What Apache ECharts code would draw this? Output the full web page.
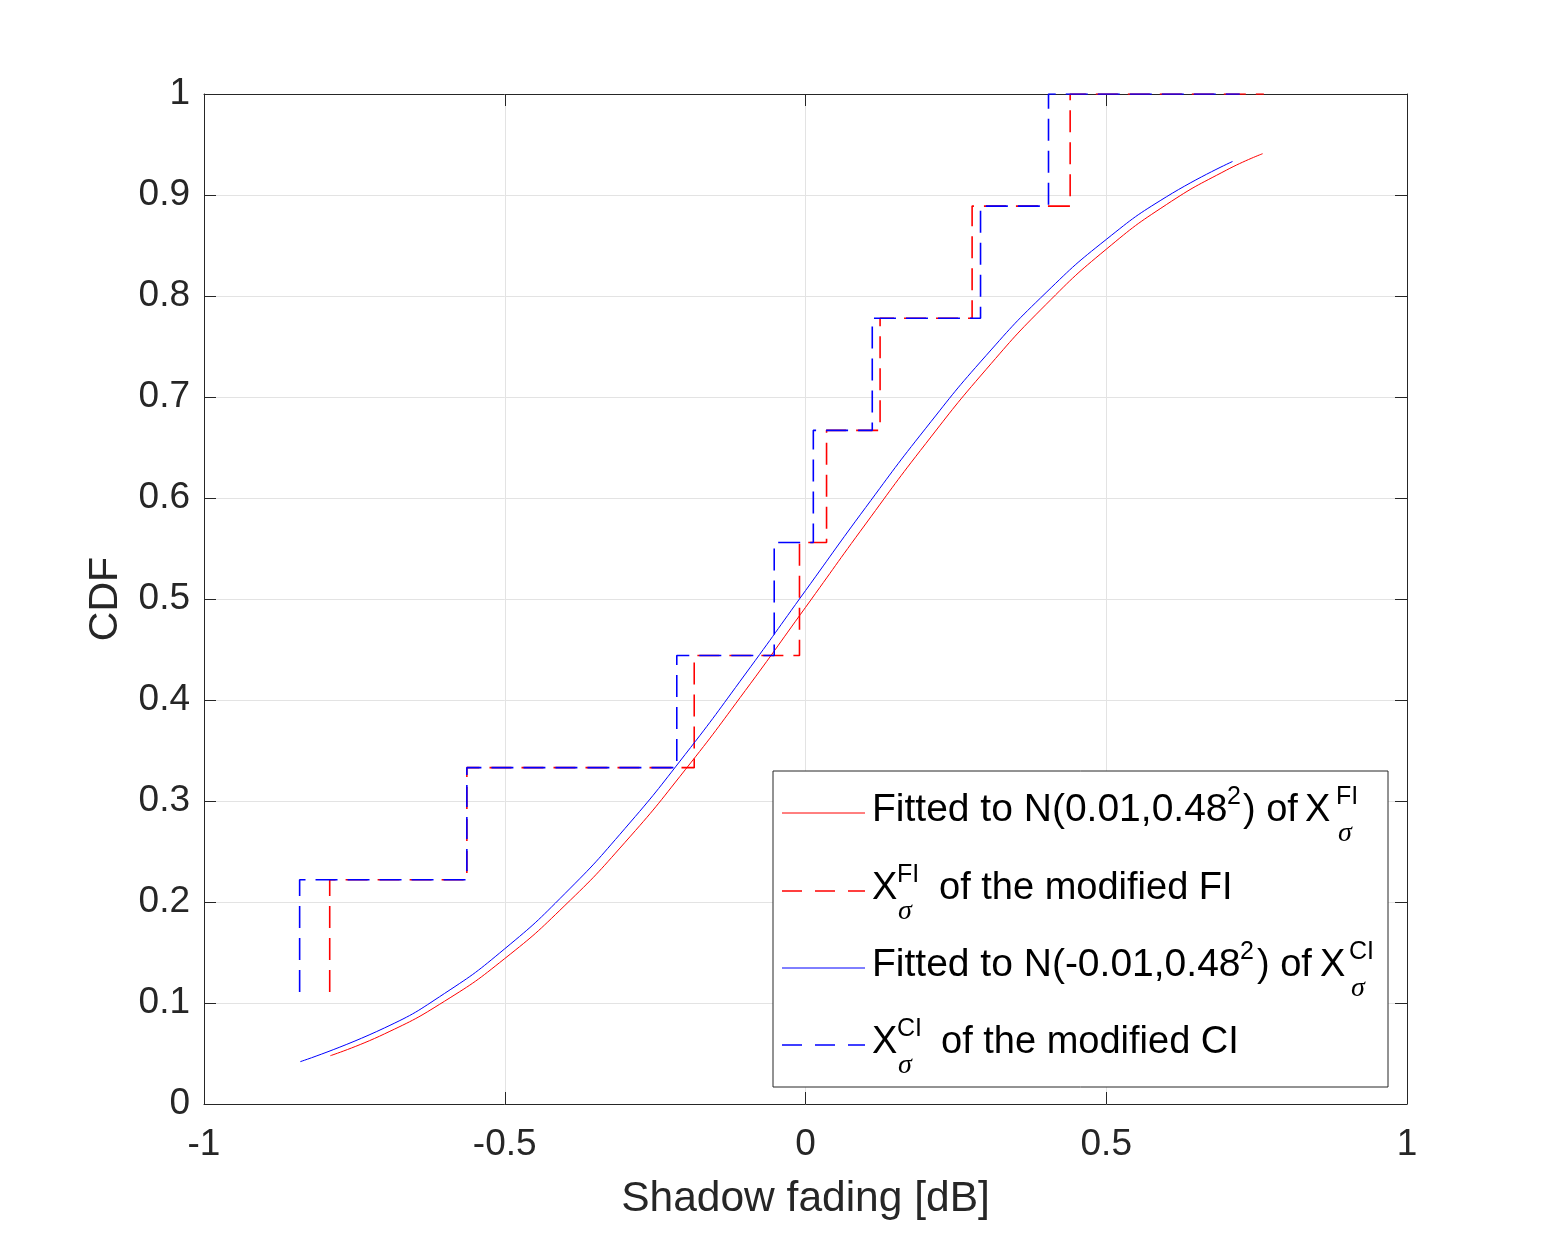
<!DOCTYPE html>
<html>
<head>
<meta charset="utf-8">
<script src="https://cdn.jsdelivr.net/npm/echarts@6/dist/echarts.min.js"></script>
<style>
  html, body { margin: 0; padding: 0; background: #fff; }
  #chart { width: 1554px; height: 1240px; }
</style>
</head>
<body>
<div id="chart"></div>
<script>
// fitted normal CDFs
var fiFitX = [-0.79, -0.7, -0.6, -0.5, -0.4, -0.3, -0.2, -0.1, 0, 0.1, 0.2, 0.3, 0.4, 0.5, 0.6, 0.7, 0.76];
var fiFitY = [0.0478, 0.0694, 0.1018, 0.1440, 0.1966, 0.2591, 0.3309, 0.4094, 0.4917, 0.5743, 0.6539, 0.7271, 0.7917, 0.8463, 0.8905, 0.9247, 0.9409];
var ciFitX = [-0.84, -0.7, -0.6, -0.5, -0.4, -0.3, -0.2, -0.1, 0, 0.1, 0.2, 0.3, 0.4, 0.5, 0.6, 0.71];
var ciFitY = [0.0419, 0.0753, 0.1095, 0.1537, 0.2083, 0.2729, 0.3461, 0.4257, 0.5083, 0.5906, 0.6691, 0.7409, 0.8034, 0.8560, 0.8982, 0.9332];

// empirical CDF steps
var stepLevels = [0.111, 0.222, 0.333, 0.444, 0.556, 0.667, 0.778, 0.889, 1.0];
var fiJumpX = [-0.791, -0.563, -0.185, -0.010, 0.035, 0.124, 0.277, 0.440];
var fiEndX = 0.762;
var ciJumpX = [-0.841, -0.563, -0.214, -0.052, 0.013, 0.111, 0.291, 0.404];
var ciEndX = 0.722;

var xTicks = [-1, -0.5, 0, 0.5, 1];
var yTicks = [0, 0.1, 0.2, 0.3, 0.4, 0.5, 0.6, 0.7, 0.8, 0.9, 1];

function pairs(xs, ys) {
  var out = [];
  for (var i = 0; i < xs.length; i++) out.push([xs[i], ys[i]]);
  return out;
}
function steps(jx, endX) {
  var out = [[jx[0], stepLevels[0]]];
  for (var i = 0; i < jx.length; i++) {
    out.push([jx[i], stepLevels[i + 1]]);
    out.push([i + 1 < jx.length ? jx[i + 1] : endX, stepLevels[i + 1]]);
  }
  return out;
}

var FONT = 'Liberation Sans, Arial, sans-serif';
var INK = '#262626';

var myChart = echarts.init(document.getElementById('chart'));

// legend drawn by hand (MATLAB style with super/subscripts)
var legendRows = [
  {y: 813, color: '#ff0000', dash: null,
   parts: [
     {t: 'Fitted to N(0.01,0.48', x: 872, s: 39},
     {t: '2', x: 1227, s: 25, sup: true},
     {t: ') of', x: 1243, s: 38},
     {t: 'X', x: 1305, s: 38},
     {t: 'FI', x: 1336, s: 25, sup: true},
     {t: 'σ', x: 1338, s: 28, sub: true}
   ]},
  {y: 891, color: '#ff0000', dash: [20, 13],
   parts: [
     {t: 'X', x: 872, s: 38},
     {t: 'FI', x: 897, s: 25, sup: true},
     {t: 'σ', x: 898, s: 28, sub: true},
     {t: 'of the modified FI', x: 939, s: 38}
   ]},
  {y: 968, color: '#0000ff', dash: null,
   parts: [
     {t: 'Fitted to N(-0.01,0.48', x: 872, s: 39},
     {t: '2', x: 1240, s: 25, sup: true},
     {t: ') of', x: 1257, s: 38},
     {t: 'X', x: 1320, s: 38},
     {t: 'CI', x: 1349, s: 25, sup: true},
     {t: 'σ', x: 1351, s: 28, sub: true}
   ]},
  {y: 1045, color: '#0000ff', dash: [20, 13],
   parts: [
     {t: 'X', x: 872, s: 38},
     {t: 'CI', x: 897, s: 25, sup: true},
     {t: 'σ', x: 898, s: 28, sub: true},
     {t: 'of the modified CI', x: 941, s: 38}
   ]}
];

var legendEls = [{
  type: 'rect', z: 100,
  shape: {x: 773, y: 771, width: 615, height: 316},
  style: {fill: '#fff', stroke: INK, lineWidth: 1}
}];
legendRows.forEach(function (r) {
  legendEls.push({
    type: 'line', z: 101,
    shape: {x1: 782, y1: r.y, x2: 865, y2: r.y},
    style: {stroke: r.color, lineWidth: r.dash ? 1.5 : 1, lineDash: r.dash || null}
  });
  r.parts.forEach(function (p) {
    var y = r.y - 2.5;
    if (p.sup) y = r.y - 16;
    if (p.sub) y = r.y + 20.5;
    legendEls.push({
      type: 'text', z: 101,
      x: p.x, y: y,
      style: {
        text: p.t,
        fontSize: p.s,
        fontFamily: p.sub ? 'Liberation Serif, Times New Roman, serif' : FONT,
        fontStyle: p.sub ? 'italic' : 'normal',
        fill: '#000',
        align: 'left',
        verticalAlign: 'middle'
      }
    });
  });
});

function fmt(v) {
  return String(Math.round(v * 10) / 10);
}

var option = {
  backgroundColor: '#fff',
  animation: false,
  grid: {left: 204, right: 147, top: 94, bottom: 136, containLabel: false},
  xAxis: [
    {
      type: 'value', min: xTicks[0], max: xTicks[xTicks.length - 1], interval: 0.5,
      position: 'bottom',
      name: 'Shadow fading [dB]', nameLocation: 'middle', nameGap: 74,
      nameTextStyle: {fontSize: 42.5, fontFamily: FONT, color: INK},
      axisLine: {show: true, onZero: false, lineStyle: {color: INK, width: 1}},
      axisTick: {show: true, inside: true, length: 12, lineStyle: {color: INK}},
      axisLabel: {fontSize: 37, fontFamily: FONT, color: INK, margin: 22, formatter: fmt},
      splitLine: {show: true, lineStyle: {color: '#e3e3e3', width: 1}}
    },
    {
      type: 'value', min: xTicks[0], max: xTicks[xTicks.length - 1], interval: 0.5,
      position: 'top',
      axisLine: {show: true, onZero: false, lineStyle: {color: INK, width: 1}},
      axisTick: {show: true, inside: true, length: 12, lineStyle: {color: INK}},
      axisLabel: {show: false},
      splitLine: {show: false}
    }
  ],
  yAxis: [
    {
      type: 'value', min: yTicks[0], max: yTicks[yTicks.length - 1], interval: 0.1,
      position: 'left',
      name: 'CDF', nameLocation: 'middle', nameGap: 78,
      nameTextStyle: {fontSize: 41, fontFamily: FONT, color: INK},
      axisLine: {show: true, onZero: false, lineStyle: {color: INK, width: 1}},
      axisTick: {show: true, inside: true, length: 12, lineStyle: {color: INK}},
      axisLabel: {fontSize: 37, fontFamily: FONT, color: INK, margin: 14, formatter: fmt},
      splitLine: {show: true, lineStyle: {color: '#e3e3e3', width: 1}}
    },
    {
      type: 'value', min: yTicks[0], max: yTicks[yTicks.length - 1], interval: 0.1,
      position: 'right',
      axisLine: {show: true, onZero: false, lineStyle: {color: INK, width: 1}},
      axisTick: {show: true, inside: true, length: 12, lineStyle: {color: INK}},
      axisLabel: {show: false},
      splitLine: {show: false}
    }
  ],
  series: [
    {
      name: 'fit FI', type: 'line', data: pairs(fiFitX, fiFitY),
      smooth: 0.5, showSymbol: false, symbol: 'none',
      lineStyle: {color: '#ff0000', width: 1}, z: 2
    },
    {
      name: 'ecdf FI', type: 'line', data: steps(fiJumpX, fiEndX),
      showSymbol: false, symbol: 'none',
      lineStyle: {color: '#ff0000', width: 1.6, type: [22, 10]}, z: 3
    },
    {
      name: 'fit CI', type: 'line', data: pairs(ciFitX, ciFitY),
      smooth: 0.5, showSymbol: false, symbol: 'none',
      lineStyle: {color: '#0000ff', width: 1}, z: 4
    },
    {
      name: 'ecdf CI', type: 'line', data: steps(ciJumpX, ciEndX),
      showSymbol: false, symbol: 'none',
      lineStyle: {color: '#0000ff', width: 1.6, type: [22, 10]}, z: 5
    }
  ],
  graphic: legendEls
};

myChart.setOption(option);
window.addEventListener('resize', function () {
  myChart.resize();
});
</script>
</body>
</html>
